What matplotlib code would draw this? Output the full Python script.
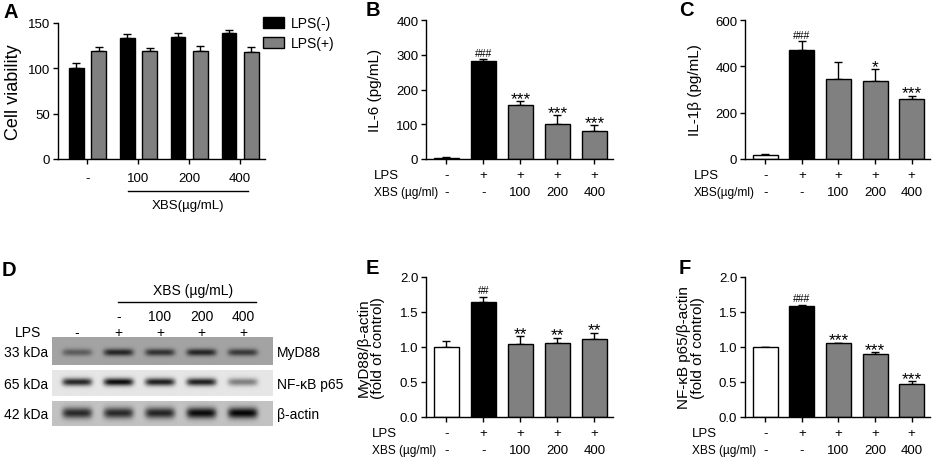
import numpy as np
import matplotlib
matplotlib.use("Agg")
import matplotlib.pyplot as plt

plt.rcParams['font.family'] = ['Liberation Sans', 'DejaVu Sans']
plt.rcParams['axes.linewidth'] = 1.0

W, H = 934, 460

# panel A: cell viability
dose_labels = ["-", "100", "200", "400"]
viab_neg = [100.4, 134, 135, 138.6]
viab_neg_err = [5, 4, 4, 4]
viab_pos = [118.7, 118.7, 119.5, 118.4]
viab_pos_err = [4.5, 3.7, 5.5, 5]

# panels B, C, E, F
lps_row = ["-", "+", "+", "+", "+"]
xbs_row = ["-", "-", "100", "200", "400"]
il6 = [4, 281, 154, 102, 81]
il6_err = [1, 6, 12, 24, 16]
il6_sig = ["", "###", "***", "***", "***"]
il1b = [18.7, 471, 347, 335, 258]
il1b_err = [2, 37, 72, 53, 16]
il1b_sig = ["", "###", "", "*", "***"]
myd88 = [1.0, 1.646, 1.048, 1.062, 1.115]
myd88_err = [0.086, 0.074, 0.105, 0.072, 0.091]
myd88_sig = ["", "##", "**", "**", "**"]
p65 = [1.0, 1.579, 1.053, 0.90, 0.474]
p65_err = [0.005, 0.028, 0.009, 0.023, 0.038]
p65_sig = ["", "###", "***", "***", "***"]
bar_colors = ["white", "black", "#808080", "#808080", "#808080"]

# panel D: western blot band darkness per lane
blot_lps = ["-", "+", "+", "+", "+"]
blot_dose = ["-", "100", "200", "400"]
blot_names = ["MyD88", "NF-κB p65", "β-actin"]
blot_kda = ["33 kDa", "65 kDa", "42 kDa"]
blot_bands = [
    [0.28, 0.5, 0.45, 0.5, 0.42],
    [0.75, 0.85, 0.78, 0.78, 0.4],
    [0.6, 0.6, 0.62, 0.72, 0.74],
]
blot_bg = [0.64, 0.9, 0.76]
blot_band_y = [0.55, 0.46, 0.48]
blot_band_h = [0.13, 0.15, 0.22]

fig = plt.figure(figsize=(W / 100, H / 100), dpi=100)


def px_axes(l, r, t, b):
    return fig.add_axes([l / W, 1 - b / H, (r - l) / W, (b - t) / H])


def style_axes(ax):
    ax.spines['top'].set_visible(False)
    ax.spines['right'].set_visible(False)
    ax.tick_params(direction='out', length=3.5, width=1, labelsize=9.5, pad=2)


def panel_letter(x, y, s):
    fig.text(x / W, 1 - y / H, s, fontsize=14.5, fontweight='bold', va='center', ha='left')


def bar_panel(ax, vals, errs, sigs, ymax, yticks, fmt, ylabel, label_x, lbl_x, xbs_text):
    x = np.arange(len(vals))
    ax.bar(x, vals, width=0.68, color=bar_colors, edgecolor='black', linewidth=1, zorder=2)
    ax.errorbar(x, vals, yerr=[np.zeros(len(vals)), errs], fmt='none', ecolor='black',
                elinewidth=1, capsize=3, capthick=1, zorder=1)
    ax.set_xlim(-0.55, 4.5)
    ax.set_ylim(0, ymax)
    ax.set_yticks(yticks)
    ax.set_yticklabels([fmt.format(t) for t in yticks])
    ax.set_xticks(x)
    ax.set_xticklabels([])
    style_axes(ax)
    pos = ax.get_position()
    ax.set_ylabel(ylabel, fontsize=11, linespacing=1.0)
    ax.yaxis.set_label_coords((label_x / W - pos.x0) / pos.width, 0.5)
    for i, s in enumerate(sigs):
        if s:
            small = '#' in s
            ax.annotate(s, (i, vals[i] + errs[i]), xytext=(0, 1 if small else -3.5),
                        textcoords='offset points', ha='center', va='bottom',
                        fontsize=7.5 if small else 12.5)
    for i in x:
        ax.annotate(lps_row[i], (i, 0), xycoords=('data', 'axes fraction'),
                    xytext=(0, -11.5), textcoords='offset points', ha='center', va='center', fontsize=9.5)
        ax.annotate(xbs_row[i], (i, 0), xycoords=('data', 'axes fraction'),
                    xytext=(0, -23.5), textcoords='offset points', ha='center', va='center', fontsize=9.5)
    fig.text(lbl_x / W, 1 - (H - pos.y0 * H + 16) / H, "LPS", fontsize=9.5, va='center', ha='left')
    fig.text(lbl_x / W, 1 - (H - pos.y0 * H + 33) / H, xbs_text, fontsize=8.6, va='center', ha='left')


# ---- panel A
axA = px_axes(58, 265, 24, 160)
xg = np.arange(4)
axA.bar(xg - 0.22, viab_neg, width=0.29, color='black', edgecolor='black', linewidth=1,
        label='LPS(-)', zorder=2)
axA.bar(xg + 0.22, viab_pos, width=0.29, color='#808080', edgecolor='black', linewidth=1,
        label='LPS(+)', zorder=2)
axA.errorbar(xg - 0.22, viab_neg, yerr=[np.zeros(4), viab_neg_err], fmt='none', ecolor='black',
             elinewidth=1, capsize=3, capthick=1, zorder=1)
axA.errorbar(xg + 0.22, viab_pos, yerr=[np.zeros(4), viab_pos_err], fmt='none', ecolor='black',
             elinewidth=1, capsize=3, capthick=1, zorder=1)
axA.set_xlim(-0.58, 3.49)
axA.set_ylim(0, 150)
axA.set_yticks([0, 50, 100, 150])
axA.set_xticks(xg)
axA.set_xticklabels(dose_labels)
style_axes(axA)
axA.tick_params(axis='x', pad=6)
axA.set_ylabel("Cell viability", fontsize=13)
axA.yaxis.set_label_coords((22 - 58) / 207, 0.5)
axA.legend(loc='upper left', bbox_to_anchor=(263 / W, 1 - 17 / H), bbox_transform=fig.transFigure,
           frameon=False, fontsize=10, handlelength=1.5, handleheight=0.85, handletextpad=0.5,
           labelspacing=0.45, borderaxespad=0, borderpad=0)
fig.add_artist(plt.Line2D([128 / W, 248 / W], [1 - 192 / H, 1 - 192 / H], color='black', lw=1))
fig.text(188 / W, 1 - 206 / H, "XBS(µg/mL)", fontsize=9.5, ha='center', va='center')
panel_letter(3, 12, "A")

# ---- panels B, C
axB = px_axes(426, 613, 21, 160)
bar_panel(axB, il6, il6_err, il6_sig, 400, [0, 100, 200, 300, 400], "{:.0f}",
          "IL-6 (pg/mL)", 382, 374, "XBS (µg/ml)")
panel_letter(366, 11, "B")

axC = px_axes(745, 930, 21, 160)
bar_panel(axC, il1b, il1b_err, il1b_sig, 600, [0, 200, 400, 600], "{:.0f}",
          "IL-1β (pg/mL)", 702, 694, "XBS(µg/ml)")
panel_letter(679, 11, "C")

# ---- panels E, F
axE = px_axes(426, 613, 278, 418)
bar_panel(axE, myd88, myd88_err, myd88_sig, 2.0, [0, 0.5, 1.0, 1.5, 2.0], "{:.1f}",
          "MyD88/β-actin\n(fold of control)", 385, 372, "XBS (µg/ml)")
panel_letter(366, 269, "E")

axF = px_axes(745, 930, 278, 418)
bar_panel(axF, p65, p65_err, p65_sig, 2.0, [0, 0.5, 1.0, 1.5, 2.0], "{:.1f}",
          "NF-κB p65/β-actin\n(fold of control)", 705, 692, "XBS (µg/ml)")
panel_letter(679, 269, "F")

# ---- panel D: blot
strips = [(338, 366), (371, 397), (402, 427)]
lane_x = np.arange(5)
x0, x1 = -0.6, 4.72
gx = np.linspace(x0, x1, 260)
for k, (t, b) in enumerate(strips):
    ax = px_axes(52, 273, t, b)
    gy = np.linspace(0, 1, 40)
    X, Y = np.meshgrid(gx, gy)
    img = np.full(X.shape, blot_bg[k])
    for i, d in enumerate(blot_bands[k]):
        img -= d * np.exp(-((X - lane_x[i]) / 0.36) ** 6) * np.exp(-((Y - blot_band_y[k]) / blot_band_h[k]) ** 2)
    ax.imshow(np.clip(img, 0, 1), cmap='gray', vmin=0, vmax=1, aspect='auto',
              extent=(x0, x1, 1, 0), interpolation='bilinear')
    ax.set_axis_off()
    yc = (t + b) / 2
    fig.text(48 / W, 1 - (yc + 1) / H, blot_kda[k], fontsize=10, ha='right', va='center')
    fig.text(277 / W, 1 - (yc + 1) / H, blot_names[k], fontsize=10, ha='left', va='center')
    if k == 0:
        axD = ax

for i, s in enumerate(blot_lps):
    axD.annotate(s, (lane_x[i], 1), xycoords=('data', 'axes fraction'), xytext=(0, 3.5),
                 textcoords='offset points', ha='center', va='center', fontsize=10, annotation_clip=False)
for i, s in enumerate(blot_dose):
    axD.annotate(s, (lane_x[i + 1], 1), xycoords=('data', 'axes fraction'), xytext=(0, 15),
                 textcoords='offset points', ha='center', va='center', fontsize=10, annotation_clip=False)
fig.text(28 / W, 1 - 333 / H, "LPS", fontsize=10, ha='center', va='center')
fig.add_artist(plt.Line2D([118 / W, 256 / W], [1 - 303 / H, 1 - 303 / H], color='black', lw=1))
fig.text(193 / W, 1 - 291 / H, "XBS (µg/mL)", fontsize=10, ha='center', va='center')
panel_letter(2, 270, "D")

fig.savefig("out.png", dpi=100)
